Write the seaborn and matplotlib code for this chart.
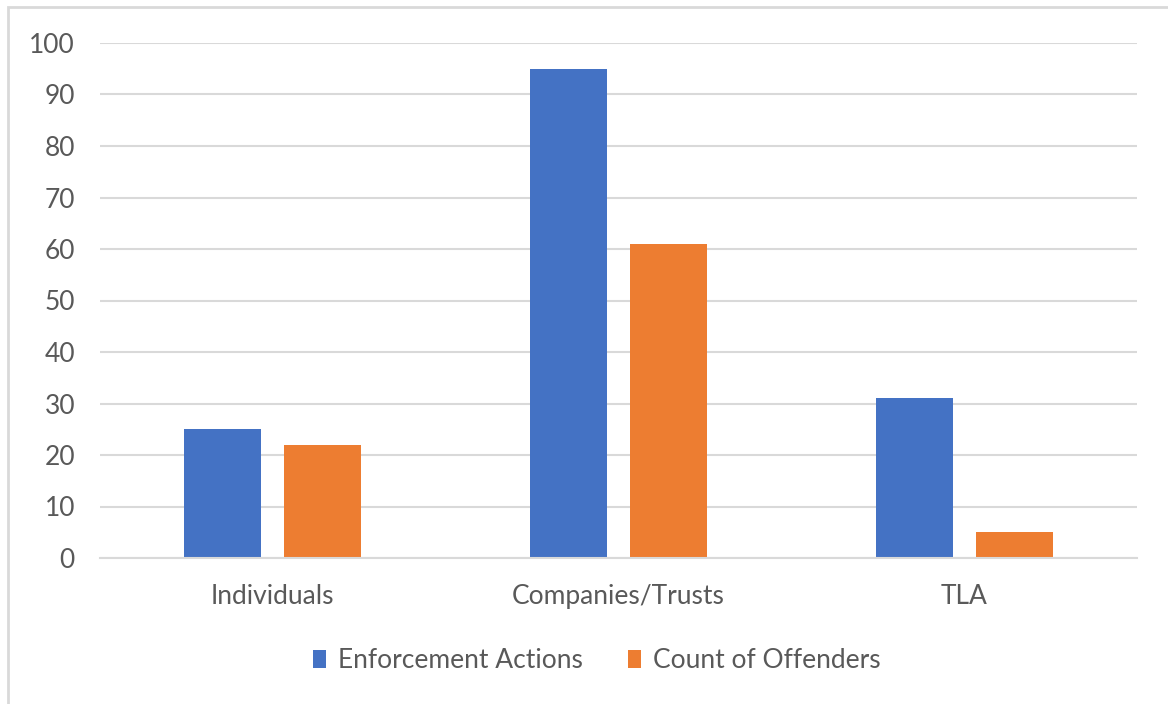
import matplotlib
matplotlib.use("Agg")
import matplotlib.pyplot as plt
import seaborn as sns
import pandas as pd
from matplotlib.patches import Rectangle

categories = ["Individuals", "Companies/Trusts", "TLA"]
enforcement_actions = [25, 95, 31]
count_of_offenders = [22, 61, 5]
series_names = ["Enforcement Actions", "Count of Offenders"]
y_ticks = [0, 10, 20, 30, 40, 50, 60, 70, 80, 90, 100]

df = pd.DataFrame({
    "category": categories * 2,
    "series": [series_names[0]] * 3 + [series_names[1]] * 3,
    "value": enforcement_actions + count_of_offenders,
})

sns.set_style("white")
plt.rcParams['font.family'] = ['Lato', 'DejaVu Sans']
text_color = "#595959"

fig = plt.figure(figsize=(11.68, 7.04), dpi=100)
ax = fig.add_axes([100/1168, (704-558)/704, 1037/1168, 515/704])

sns.barplot(data=df, x="category", y="value", hue="series", order=categories,
            hue_order=series_names, palette=["#4472C4", "#ED7D31"],
            width=0.578, gap=0.23, ax=ax, legend=True, saturation=1,
            linewidth=0)

ax.set_xlim(-0.5, 2.5)
ax.set_ylim(0, 100)
ax.set_yticks(y_ticks)
ax.yaxis.grid(True, color="#D9D9D9", linewidth=1.5)
ax.set_axisbelow(True)
for s in ["top", "right", "left"]:
    ax.spines[s].set_visible(False)
ax.spines["bottom"].set_color("#D9D9D9")
ax.spines["bottom"].set_linewidth(1.5)
ax.set_xlabel("")
ax.set_ylabel("")
ax.tick_params(axis="both", length=0, labelsize=19, colors=text_color)
ax.tick_params(axis="y", pad=18)
ax.tick_params(axis="x", pad=19)

leg = ax.legend(loc="center", bbox_to_anchor=(597/1168, 1 - 661/704),
                bbox_transform=fig.transFigure, ncol=2, frameon=False,
                fontsize=19, handlelength=0.5, handleheight=0.65,
                handletextpad=0.45, columnspacing=1.7)
for t in leg.get_texts():
    t.set_color(text_color)

fig.patches.append(Rectangle((8/1168, -0.1), 1.2, 1 - 7/704 + 0.1,
                             transform=fig.transFigure, fill=False,
                             edgecolor="#D9D9D9", linewidth=2))

fig.savefig("out.png", dpi=100)
